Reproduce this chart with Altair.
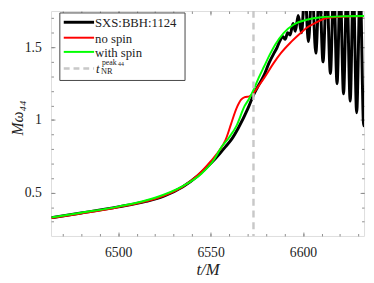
import altair as alt
import pandas as pd

# ---------------- data ----------------
t_black = [6464, 6480, 6500, 6515, 6525, 6535, 6543, 6550, 6555, 6558, 6561.5, 6565,
           6570.2, 6573.3, 6576, 6579, 6581.5, 6584.3, 6586, 6587.5, 6589, 6590.3,
           6591.7, 6593, 6594.6, 6595.8, 6597.4, 6599.2, 6601.0, 6602.9, 6604.9,
           6606.9, 6608.9, 6610.8, 6612.8, 6614.8, 6616.6, 6618.4, 6620.1, 6621.9,
           6623.7, 6625.5, 6627.2, 6629.0, 6630.9, 6632.8, 6634.8]
y_black = [0.328, 0.360, 0.402, 0.440, 0.478, 0.540, 0.615, 0.700, 0.770, 0.815, 0.870, 0.945,
           1.080, 1.175, 1.240, 1.310, 1.390, 1.460, 1.500, 1.545, 1.575, 1.555,
           1.600, 1.585, 1.665, 1.610, 1.720, 1.600, 1.900, 1.540, 1.910,
           1.460, 1.920, 1.400, 1.930, 1.320, 1.930, 1.250, 1.930, 1.180,
           1.930, 1.130, 1.930, 1.050, 1.930, 0.960, 1.930]

t_red = [6464, 6480, 6500, 6515, 6525, 6535, 6543, 6550, 6555, 6558, 6561, 6564,
         6566.5, 6568.5, 6571, 6573.3, 6576, 6579, 6584, 6588, 6593, 6598, 6602,
         6607, 6611, 6616, 6620, 6626, 6634]
y_red = [0.326, 0.357, 0.400, 0.440, 0.480, 0.542, 0.620, 0.715, 0.795, 0.860, 0.970, 1.080,
         1.140, 1.157, 1.163, 1.186, 1.235, 1.290, 1.390, 1.460, 1.530, 1.590, 1.635,
         1.670, 1.695, 1.706, 1.711, 1.713, 1.714]

t_green = [6464, 6480, 6500, 6520, 6535, 6545, 6552, 6556, 6560, 6564, 6568.4, 6571,
           6573.3, 6576, 6579, 6582, 6585, 6589.6, 6595, 6602, 6610, 6620, 6634]
y_green = [0.330, 0.362, 0.404, 0.465, 0.545, 0.630, 0.730, 0.816, 0.880, 0.960, 1.096, 1.150,
           1.209, 1.290, 1.370, 1.450, 1.520, 1.600, 1.657, 1.690, 1.707, 1.713, 1.715]

t_peak = [6573.2]

series_names = ["SXS:BBH:1124", "no spin", "with spin"]
series_colors = ["#000000", "#ff0000", "#00ff00"]

x_major = [6500, 6550, 6600]
x_minor = [6470, 6480, 6490, 6500, 6510, 6520, 6530, 6540, 6550, 6560, 6570, 6580,
           6590, 6600, 6610, 6620, 6630]
y_major = [0.5, 1.0, 1.5]
y_minor = [0.3, 0.4, 0.5, 0.6, 0.7, 0.8, 0.9, 1.0, 1.1, 1.2, 1.3, 1.4, 1.5, 1.6, 1.7]

X_DOMAIN = [6463.7, 6633.0]
Y_DOMAIN = [0.202, 1.750]

W, H = 320, 230
FONT = "Liberation Serif"
GREY = "#8c8c8c"

df_black = pd.DataFrame({"t": t_black, "w": y_black})
df_red = pd.DataFrame({"t": t_red, "w": y_red})
df_green = pd.DataFrame({"t": t_green, "w": y_green})
df_peak = pd.DataFrame({"t": t_peak})
dummy = pd.DataFrame({"a": [0]})

xs = alt.Scale(domain=X_DOMAIN, nice=False, zero=False)
ys = alt.Scale(domain=Y_DOMAIN, nice=False, zero=False)


def tick_axis(orient, values, size):
    return alt.Axis(orient=orient, values=values, labels=False, title=None,
                    domain=False, grid=False, tickColor=GREY, tickWidth=1,
                    tickSize=alt.ExprRef(expr=str(-size)))


# labelled axes (no ticks)
x_lab = alt.Axis(orient="bottom", values=x_major, format="d", ticks=False, domain=False,
                 grid=False, labelFont=FONT, labelFontSize=14, labelColor="#222",
                 labelPadding=10, title="t/M", titleFont=FONT, titleFontStyle="italic",
                 titleFontWeight="normal", titleFontSize=17, titleColor="#222",
                 titleBaseline="middle", titleY=34)
y_lab = alt.Axis(orient="left", values=y_major, ticks=False, domain=False, grid=False,
                 labelExpr="datum.value == 1 ? '1' : format(datum.value, '.1f')",
                 labelFont=FONT, labelFontSize=14, labelColor="#222", labelPadding=10,
                 title="Mω₄₄", titleFont=FONT, titleFontStyle="italic",
                 titleFontWeight="normal", titleFontSize=16, titleColor="#222",
                 titleAngle=-90, titleBaseline="middle", titleX=-34, titleY=H / 2 - 6)

black = alt.Chart(df_black).mark_line(color=series_colors[0], strokeWidth=3, clip=True,
                                      interpolate="monotone").encode(
    x=alt.X("t:Q", scale=xs, axis=x_lab),
    y=alt.Y("w:Q", scale=ys, axis=y_lab))

red = alt.Chart(df_red).mark_line(color=series_colors[1], strokeWidth=2, clip=True,
                                  interpolate="monotone").encode(
    x=alt.X("t:Q", scale=xs, axis=tick_axis("bottom", x_major, 4)),
    y=alt.Y("w:Q", scale=ys, axis=tick_axis("left", y_major, 4)))

green = alt.Chart(df_green).mark_line(color=series_colors[2], strokeWidth=2, clip=True,
                                      interpolate="monotone").encode(
    x=alt.X("t:Q", scale=xs, axis=tick_axis("bottom", x_minor, 2.5)),
    y=alt.Y("w:Q", scale=ys, axis=tick_axis("left", y_minor, 2.5)))

peak = alt.Chart(df_peak).mark_rule(color="#c8c8c8", strokeWidth=2.5,
                                    strokeDash=[7, 5]).encode(
    x=alt.X("t:Q", scale=xs, axis=tick_axis("top", x_major, 4)),
    y=alt.value(0), y2=alt.value(H))

frame_dummy = alt.Chart(df_peak).mark_point(opacity=0).encode(
    x=alt.X("t:Q", scale=xs, axis=tick_axis("top", x_minor, 2.5)))

# y ticks on the right side use hidden layers
right_major = alt.Chart(df_green).mark_point(opacity=0).encode(
    y=alt.Y("w:Q", scale=ys, axis=tick_axis("right", y_major, 4)))
right_minor = alt.Chart(df_green).mark_point(opacity=0).encode(
    y=alt.Y("w:Q", scale=ys, axis=tick_axis("right", y_minor, 2.5)))

# ---------------- manual legend (pixel positions in plot area) ----------------
LX0, LY0, LX1, LY1 = 9, 2, 137, 71
row_y = [11.5, 27.3, 41.8, 58.7]
line_x0, line_x1, text_x = 13, 44, 45

legend_layers = [
    alt.Chart(dummy).mark_rect(fill="white", stroke="#444", strokeWidth=1).encode(
        x=alt.value(LX0), x2=alt.value(LX1), y=alt.value(LY0), y2=alt.value(LY1))
]
for i, (name, col) in enumerate(zip(series_names, series_colors)):
    legend_layers.append(
        alt.Chart(dummy).mark_rule(color=col, strokeWidth=3 if i == 0 else 2).encode(
            x=alt.value(line_x0), x2=alt.value(line_x1), y=alt.value(row_y[i])))
    legend_layers.append(
        alt.Chart(dummy).mark_text(font=FONT, fontSize=13, align="left",
                                   baseline="middle", color="#222").encode(
            x=alt.value(text_x), y=alt.value(row_y[i] + 1), text=alt.value(name)))
legend_layers.append(
    alt.Chart(dummy).mark_rule(color="#c8c8c8", strokeWidth=2.5, strokeDash=[6, 4]).encode(
        x=alt.value(line_x0), x2=alt.value(line_x1), y=alt.value(row_y[3])))
legend_layers.append(
    alt.Chart(dummy).mark_text(font=FONT, fontSize=13, fontStyle="italic", align="left",
                               baseline="alphabetic", color="#222").encode(
        x=alt.value(text_x + 1), y=alt.value(row_y[3] + 4.5), text=alt.value("t")))
legend_layers.append(
    alt.Chart(dummy).mark_text(font=FONT, fontSize=8, align="left",
                               baseline="alphabetic", color="#222").encode(
        x=alt.value(text_x + 7), y=alt.value(row_y[3] - 3), text=alt.value("peak")))
legend_layers.append(
    alt.Chart(dummy).mark_text(font=FONT, fontSize=6, align="left",
                               baseline="alphabetic", color="#222").encode(
        x=alt.value(text_x + 23.5), y=alt.value(row_y[3] - 2), text=alt.value("44")))
legend_layers.append(
    alt.Chart(dummy).mark_text(font=FONT, fontSize=8.5, align="left",
                               baseline="alphabetic", color="#222").encode(
        x=alt.value(text_x + 6), y=alt.value(row_y[3] + 5.5), text=alt.value("NR")))

chart = alt.layer(
    black, red, green, peak, frame_dummy, right_major, right_minor, *legend_layers
).resolve_axis(x="independent", y="independent").properties(
    width=W, height=H,
    autosize=alt.AutoSizeParams(type="none"),
    padding={"left": 44, "top": 0, "right": 2, "bottom": 45},
).configure_view(stroke=GREY, strokeWidth=1).configure(background="white")

chart.save("out.html", embed_options={"renderer": "svg", "actions": False})
